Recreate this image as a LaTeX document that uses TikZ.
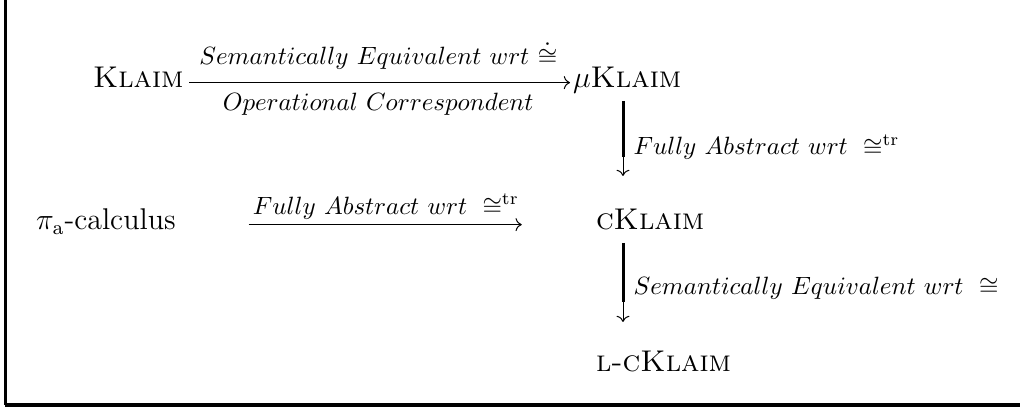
\documentclass[tikz,border=0pt]{standalone}
\usepackage{amsmath, amssymb}
\usetikzlibrary{arrows.meta, positioning}

\begin{document}
\begin{tikzpicture}[x=0.4pt, y=0.4pt,
    calc/.style={inner sep=1pt, anchor=base west, font=\large},
    rel/.style={inner sep=2pt},
    bar/.style={line width=1.2pt},
    tip/.style={->, line width=0.4pt}]
    \useasboundingbox (0,0) rectangle (1020,410);
    % Frame
    \draw[line width=1.2pt] (5,410) -- (5,5);
    \draw[line width=1.6pt] (5,5) -- (1020,5);

    % Calculi
    \node[calc] (klaim) at (90,322) {\textsc{Klaim}};
    \node[calc] (mu) at (570,322) {$\mu$\textsc{Klaim}};
    \node[calc] (pi) at (33,180) {$\pi_{\mathrm{a}}$-calculus};
    \node[calc] (ck) at (593,180) {\textsc{cKlaim}};
    \node[calc] (lck) at (593,38) {\textsc{l-cKlaim}};

    % Klaim to muKlaim
    \draw[tip, shorten <=1pt] (klaim.mid east) -- (klaim.mid east -| mu.west)
        node[midway, above=3pt, rel] (se1) {$Semantically\ Equivalent\ wrt\ \dot{\cong}$}
        node[midway, below=2pt, rel] (oc) {$Operational\ Correspondent$};

    % pi_a to cKlaim
    \draw[tip, shorten <=28pt, shorten >=28.5pt] (pi.mid east) -- (pi.mid east -| ck.west)
        node[midway, above, rel] (fa2) {$Fully\ Abstract\ wrt\ \cong^{\mathrm{tr}}$};

    % muKlaim to cKlaim
    \coordinate (v1a) at (623,309);
    \coordinate (v1b) at (623,253);
    \coordinate (v1c) at (623,234);
    \draw[bar] (v1a) -- (v1b);
    \draw[tip] (v1b) -- (v1c);
    \node[right, rel] (fa1) at (628,263) {$Fully\ Abstract\ wrt\ \cong^{\mathrm{tr}}$};

    % cKlaim to l-cKlaim
    \coordinate (v2a) at (623,167);
    \coordinate (v2b) at (623,108);
    \coordinate (v2c) at (623,88);
    \draw[bar] (v2a) -- (v2b);
    \draw[tip] (v2b) -- (v2c);
    \node[right, rel] (se2) at (628,122) {$Semantically\ Equivalent\ wrt\ \cong$};
\end{tikzpicture}
\end{document}
